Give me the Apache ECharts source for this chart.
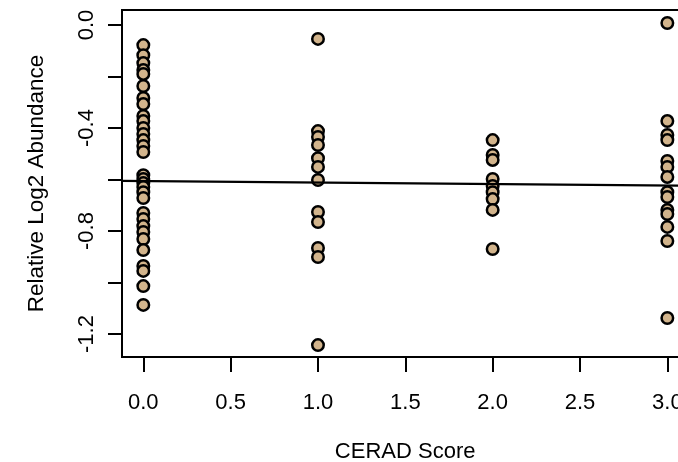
<!DOCTYPE html>
<html>
<head>
<meta charset="utf-8">
<script src="https://cdn.jsdelivr.net/npm/echarts@6/dist/echarts.min.js"></script>
<style>
  html, body { margin: 0; padding: 0; background: #ffffff; }
  #chart { width: 678px; height: 462px; }
</style>
</head>
<body>
<div id="chart"></div>
<script>
// CERAD score groups and the relative log2 abundance measured in each
const ceradScores = [0, 1, 2, 3];
const abundanceScore0 = [-0.078, -0.117, -0.148, -0.175, -0.190, -0.237, -0.283, -0.307,
  -0.353, -0.373, -0.400, -0.423, -0.447, -0.470, -0.493, -0.583, -0.598, -0.614,
  -0.629, -0.649, -0.672, -0.730, -0.753, -0.781, -0.804, -0.831, -0.874, -0.936,
  -0.955, -1.014, -1.087];
const abundanceScore1 = [-0.054, -0.412, -0.435, -0.466, -0.517, -0.551, -0.602, -0.726,
  -0.765, -0.866, -0.901, -1.243];
const abundanceScore2 = [-0.447, -0.505, -0.524, -0.598, -0.625, -0.649, -0.676, -0.718,
  -0.870];
const abundanceScore3 = [0.008, -0.373, -0.427, -0.447, -0.528, -0.551, -0.590, -0.649,
  -0.668, -0.718, -0.734, -0.784, -0.839, -1.138];

// Linear fit of abundance on CERAD score
const fitIntercept = -0.606;
const fitSlope = -0.0058;

// Axis ticks and labels
const xTicks = [0, 0.5, 1, 1.5, 2, 2.5, 3];
const yTicks = [0, -0.2, -0.4, -0.6, -0.8, -1.0, -1.2];
const yLabels = [0, -0.4, -0.8, -1.2];

const xMin = -0.122, xMax = 3.12;
const yMin = -1.2893, yMax = 0.0583;

const groups = [abundanceScore0, abundanceScore1, abundanceScore2, abundanceScore3];
const points = [];
groups.forEach(function (vals, i) {
  vals.forEach(function (v) { points.push([ceradScores[i], v]); });
});

const fitLine = [xMin, xMax].map(function (x) { return [x, fitIntercept + fitSlope * x]; });

const font = 'Liberation Sans, Arial, Helvetica, sans-serif';
const chart = echarts.init(document.getElementById('chart'), null, { renderer: 'canvas' });

chart.setOption({
  animation: false,
  backgroundColor: '#ffffff',
  grid: {
    left: 122, top: 10, width: 566.3, height: 347,
    containLabel: false, outerBoundsMode: 'none',
    show: true, borderColor: '#000000', borderWidth: 2, backgroundColor: 'transparent'
  },
  xAxis: {
    type: 'value', min: xMin, max: xMax,
    name: 'CERAD Score', nameLocation: 'middle', nameGap: 84,
    nameTextStyle: { fontFamily: font, fontSize: 22, color: '#000000' },
    axisLine: { show: false, onZero: false },
    splitLine: { show: false },
    axisTick: {
      show: true, inside: false, length: 15, customValues: xTicks,
      lineStyle: { color: '#000000', width: 2 }
    },
    axisLabel: {
      customValues: xTicks, margin: 35, fontFamily: font, fontSize: 22, color: '#000000',
      formatter: function (v) { return v.toFixed(1); }
    }
  },
  yAxis: {
    type: 'value', min: yMin, max: yMax,
    name: 'Relative Log2 Abundance', nameLocation: 'middle', nameGap: 74, nameRotate: 90,
    nameTextStyle: { fontFamily: font, fontSize: 22.5, color: '#000000' },
    axisLine: { show: false, onZero: false },
    splitLine: { show: false },
    axisTick: {
      show: true, inside: false, length: 14, customValues: yTicks,
      lineStyle: { color: '#000000', width: 2 }
    },
    axisLabel: {
      customValues: yLabels, rotate: 90, margin: 24, fontFamily: font, fontSize: 22, color: '#000000',
      formatter: function (v) { return v.toFixed(1); }
    }
  },
  series: [
    {
      type: 'scatter',
      data: points,
      symbol: 'circle',
      symbolSize: 11.5,
      itemStyle: { color: '#D2B48C', borderColor: '#000000', borderWidth: 2.5, opacity: 1 },
      z: 2
    },
    {
      type: 'line',
      data: fitLine,
      symbol: 'none',
      lineStyle: { color: '#000000', width: 2.2 },
      z: 3
    }
  ]
});
</script>
</body>
</html>
